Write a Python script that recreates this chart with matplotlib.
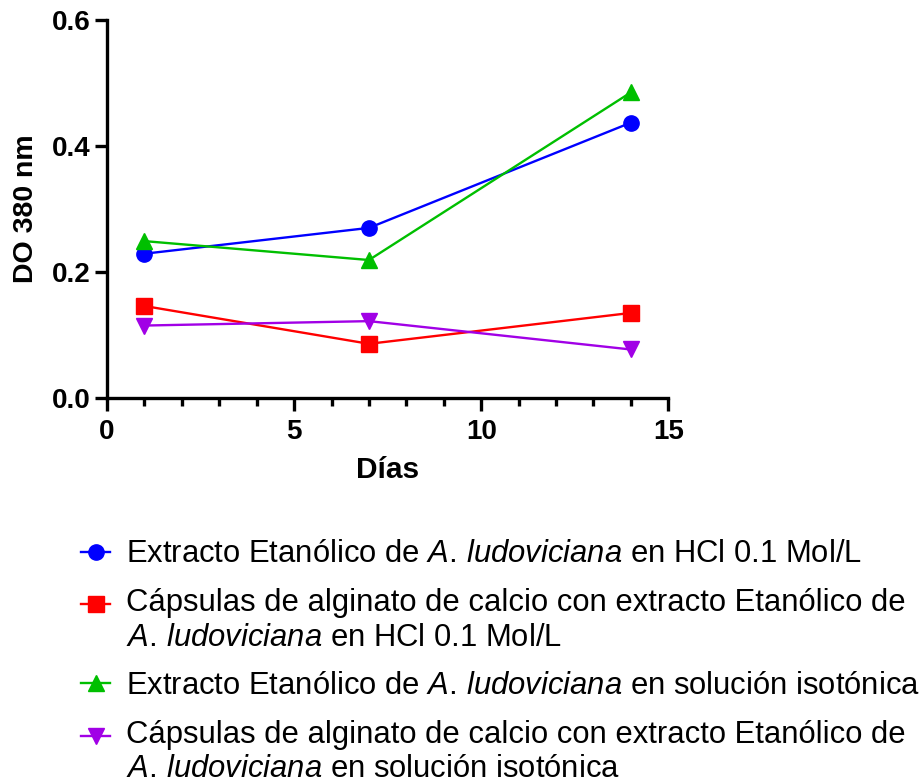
import matplotlib
matplotlib.use('Agg')
import matplotlib.pyplot as plt
from matplotlib.ticker import MultipleLocator
from matplotlib.legend_handler import HandlerLine2D

plt.rcParams['font.family'] = ['Liberation Sans', 'DejaVu Sans']
plt.rcParams['mathtext.fontset'] = 'custom'
plt.rcParams['mathtext.rm'] = 'Liberation Sans'
plt.rcParams['mathtext.it'] = 'Liberation Sans:italic'

# Data
dias = [1, 7, 14]
extracto_hcl = [0.229, 0.270, 0.437]
capsulas_hcl = [0.146, 0.086, 0.135]
extracto_iso = [0.249, 0.219, 0.485]
capsulas_iso = [0.115, 0.122, 0.077]

especie = r'$\mathit{A.}\!$ $\mathit{ludoviciana}$'
labels = [
    'Extracto Etanólico de ' + especie + ' en HCl 0.1 Mol/L',
    'Cápsulas de alginato de calcio con extracto Etanólico de\n'
    + especie + ' en HCl 0.1 Mol/L',
    'Extracto Etanólico de ' + especie + ' en solución isotónica',
    'Cápsulas de alginato de calcio con extracto Etanólico de\n'
    + especie + ' en solución isotónica',
]
colors = ['#0000FF', '#FF0000', '#00BF00', '#A100E6']
markers = ['o', 's', '^', 'v']
series = [extracto_hcl, capsulas_hcl, extracto_iso, capsulas_iso]


# legend handle placed next to the first line of a two-line label
class FirstLineHandler(HandlerLine2D):
    def __init__(self, shift, **kw):
        super().__init__(**kw)
        self.shift = shift

    def create_artists(self, legend, orig_handle, xdescent, ydescent,
                       width, height, fontsize, trans):
        return super().create_artists(legend, orig_handle, xdescent,
                                      ydescent - 2 * self.shift, width, height,
                                      fontsize, trans)


fig = plt.figure(figsize=(9.23, 7.83), dpi=100)
ax = fig.add_axes([0.116, 0.4917, 0.608, 0.4828])

lines = []
for y, c, m, lab in zip(series, colors, markers, labels):
    ln, = ax.plot(dias, y, color=c, marker=m, markersize=11, linewidth=1.7, label=lab)
    lines.append(ln)

ax.set_xlim(0, 15)
ax.set_ylim(0, 0.6)
ax.xaxis.set_major_locator(MultipleLocator(5))
ax.xaxis.set_minor_locator(MultipleLocator(1))
ax.yaxis.set_major_locator(MultipleLocator(0.2))
ax.yaxis.set_major_formatter(plt.FormatStrFormatter('%.1f'))

for side in ['top', 'right']:
    ax.spines[side].set_visible(False)
for side in ['left', 'bottom']:
    ax.spines[side].set_linewidth(2.4)
ax.tick_params(which='major', length=9, width=2.4, labelsize=20)
ax.tick_params(axis='x', which='major', pad=6)
ax.tick_params(axis='y', which='major', pad=3)
ax.tick_params(axis='x', which='minor', length=6, width=2.4)
for t in ax.get_xticklabels() + ax.get_yticklabels():
    t.set_fontweight('bold')

ax.set_xlabel('Días', fontsize=21.5, fontweight='bold', labelpad=8)
ax.set_ylabel('DO 380 nm', fontsize=20.5, fontweight='bold', labelpad=9)

hmap = {lines[1]: FirstLineHandler(12.4), lines[3]: FirstLineHandler(12.4)}
leg = fig.legend(lines, labels, loc='upper left', bbox_to_anchor=(0.0878, 0.311),
                 frameon=False, fontsize=22.3, handlelength=0.95, handletextpad=0.5,
                 labelspacing=0.6, markerscale=1.0, borderaxespad=0, borderpad=0,
                 handler_map=hmap)

fig.savefig('out.png', dpi=100)
